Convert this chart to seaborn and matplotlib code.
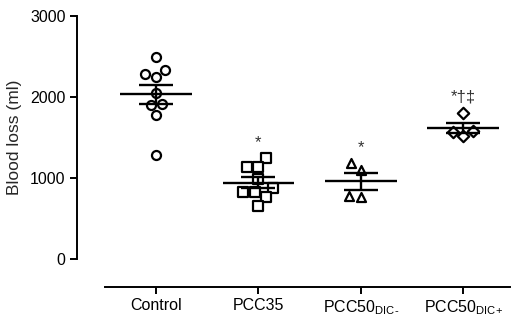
import numpy as np
import pandas as pd
import matplotlib
matplotlib.use("Agg")
import matplotlib.pyplot as plt
import seaborn as sns

# values (ml)
groups = ["Control", "PCC35", "PCC50_DIC-", "PCC50_DIC+"]
tick_labels = ["Control", "PCC35", r"PCC50$_{\mathrm{DIC\text{-}}}$", r"PCC50$_{\mathrm{DIC\text{+}}}$"]
control = [2494, 2284, 2333, 2247, 2049, 1901, 1914, 1778, 1284]
pcc35 = [1247, 1136, 1136, 988, 827, 827, 877, 765, 654]
pcc50_dic_minus = [1185, 1099, 765, 778]
pcc50_dic_plus = [1802, 1580, 1519, 1568]
signif = ["", "*", "*", "*\u2020\u2021"]

values = [control, pcc35, pcc50_dic_minus, pcc50_dic_plus]
markers = ["o", "s", "^", "D"]

df = pd.DataFrame({
    "group": np.repeat(groups, [len(v) for v in values]),
    "loss": np.concatenate(values),
})

sns.set_style("ticks")
plt.rcParams["font.family"] = ["Liberation Sans", "DejaVu Sans"]
plt.rcParams["mathtext.fontset"] = "custom"
plt.rcParams["mathtext.rm"] = "Liberation Sans"

fig, ax = plt.subplots(figsize=(5.2, 3.22), dpi=100)
fig.subplots_adjust(left=0.202, right=0.981, top=0.95, bottom=0.196)

for g, m in zip(groups, markers):
    sns.swarmplot(data=df[df["group"] == g], x="group", y="loss", order=groups,
                  marker=m, size=6.5 if m != "D" else 5.8, color="white",
                  edgecolor="black", linewidth=1.6, ax=ax, zorder=3)

# mean and SEM
for i, g in enumerate(groups):
    v = df.loc[df["group"] == g, "loss"].to_numpy()
    mean = v.mean()
    sem = v.std(ddof=1) / np.sqrt(len(v))
    ax.hlines(mean, i - 0.35, i + 0.35, color="black", lw=1.7, zorder=4)
    ax.errorbar(i, mean, yerr=sem, fmt="none", ecolor="black", elinewidth=1.7,
                capsize=12.5, capthick=1.7, zorder=4)
    if signif[i]:
        ax.text(i, v.max() + 100, signif[i], ha="center", va="bottom",
                fontsize=12, color="#333333")

ax.set_ylim(0, 3000)
ax.set_xlim(-0.5, 3.46)
ax.set_yticks([0, 1000, 2000, 3000])
ax.set_xticks(range(4))
ax.set_xticklabels(tick_labels)
ax.set_xlabel("")
ax.set_ylabel("Blood loss (ml)", fontsize=12.5, labelpad=6)
ax.tick_params(labelsize=11.5, width=1.4, length=5, colors="black")
for s in ["left", "bottom"]:
    ax.spines[s].set_linewidth(1.4)
    ax.spines[s].set_color("black")
sns.despine(ax=ax, offset=20)

fig.savefig("out.png", dpi=100)
